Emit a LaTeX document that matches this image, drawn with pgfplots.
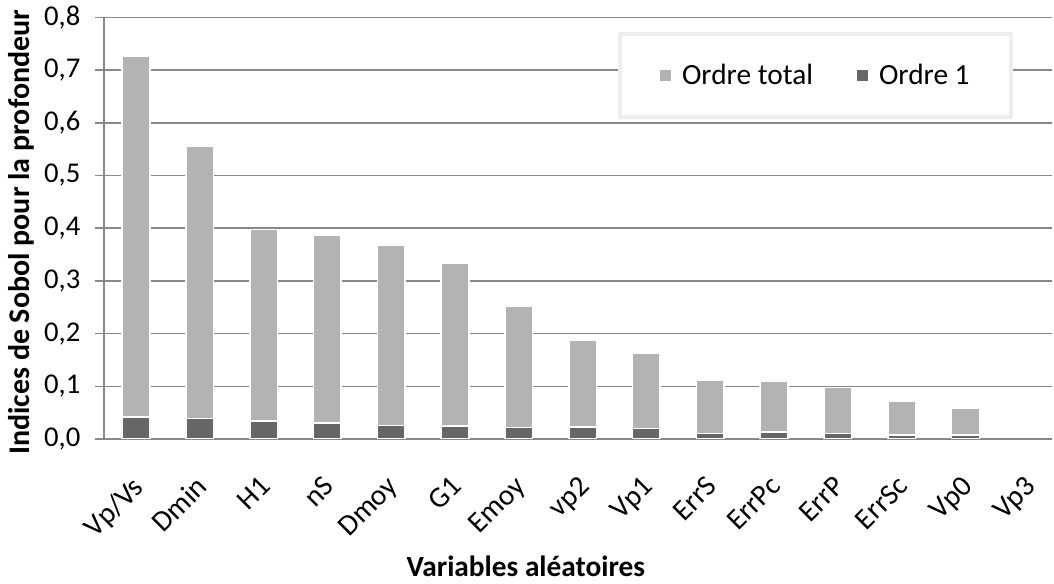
\documentclass[border=0pt]{standalone}
\usepackage{pgfplots}
\pgfplotsset{compat=1.18}
\usepackage{fontspec}
\setmainfont{Carlito}
\definecolor{lightbar}{HTML}{B3B3B3}
\definecolor{darkbar}{HTML}{666666}
\definecolor{gridgray}{HTML}{888888}
\definecolor{legborder}{HTML}{EEEEEE}
\begin{document}
\begin{tikzpicture}[font=\fontsize{22}{26}\selectfont]
\begin{axis}[
  at={(0,0)}, anchor=south west,
  scale only axis,
  width=711pt, height=316.2pt,
  xmin=-0.5016, xmax=14.357,
  ymin=0, ymax=0.8,
  ytick={0,0.1,...,0.8},
  xtick={0,...,14},
  xticklabels={Vp/Vs,Dmin,H1,nS,Dmoy,G1,Emoy,vp2,Vp1,ErrS,ErrPc,ErrP,ErrSc,Vp0,Vp3},
  axis x line*=bottom, axis y line*=left,
  axis line style={gridgray, line width=1.1pt, -},
  ymajorgrids, major grid style={gridgray, line width=1.1pt},
  xtick style={draw=none},
  ytick style={gridgray, line width=1.1pt},
  tick align=outside, major tick length=6.5pt,
  /pgf/number format/fixed, /pgf/number format/fixed zerofill,
  /pgf/number format/precision=1, /pgf/number format/use comma,
  /pgf/number format/assume math mode=true,
  yticklabel style={anchor=east, inner sep=0pt, xshift=-11pt, font=\fontsize{21.5}{25}\selectfont},
  xticklabel style={yshift=-20pt, xshift=-4pt, rotate=45, anchor=north east, inner sep=0pt},
  xlabel={\bfseries Variables aléatoires},
  xlabel style={at={(axis description cs:0.445,-0.3273)}, anchor=base, inner sep=0pt},
  ylabel={\fontsize{22.5}{26}\selectfont\bfseries Indices de Sobol pour la profondeur},
  ylabel style={at={(axis description cs:-0.0791,0.49)}, anchor=base, rotate=0, inner sep=0pt},
  legend columns=2,
  legend style={at={(axis description cs:0.7505,0.862)}, anchor=center,
    draw=legborder, line width=3pt, fill=white,
    inner xsep=29pt, inner ysep=21pt,
    /tikz/every even column/.append style={column sep=30pt},
    /tikz/every odd column/.append style={column sep=5pt},
    font=\fontsize{22}{26}\selectfont},
  legend image code/.code={\fill[#1] (0pt,-4.7pt) rectangle (9.4pt,4.7pt);},
]
\addplot[ybar, bar shift=0pt, bar width=0.433, fill=lightbar, draw=white, line width=1.1pt] coordinates {
 (0,0.727) (1,0.556) (2,0.398) (3,0.387) (4,0.367) (5,0.334) (6,0.252)
 (7,0.188) (8,0.162) (9,0.112) (10,0.109) (11,0.098) (12,0.071) (13,0.058)
};
\addlegendentry{Ordre total}
\addplot[ybar, bar shift=0pt, bar width=0.433, fill=darkbar, draw=white, line width=1.1pt] coordinates {
 (0,0.042) (1,0.039) (2,0.034) (3,0.030) (4,0.026) (5,0.025) (6,0.022)
 (7,0.023) (8,0.020) (9,0.010) (10,0.013) (11,0.010) (12,0.008) (13,0.008)
};
\addlegendentry{Ordre 1}
\end{axis}
\pgfresetboundingbox
\useasboundingbox (-78pt,-108.75pt) rectangle (712.5pt,329.25pt);
\end{tikzpicture}
\end{document}
